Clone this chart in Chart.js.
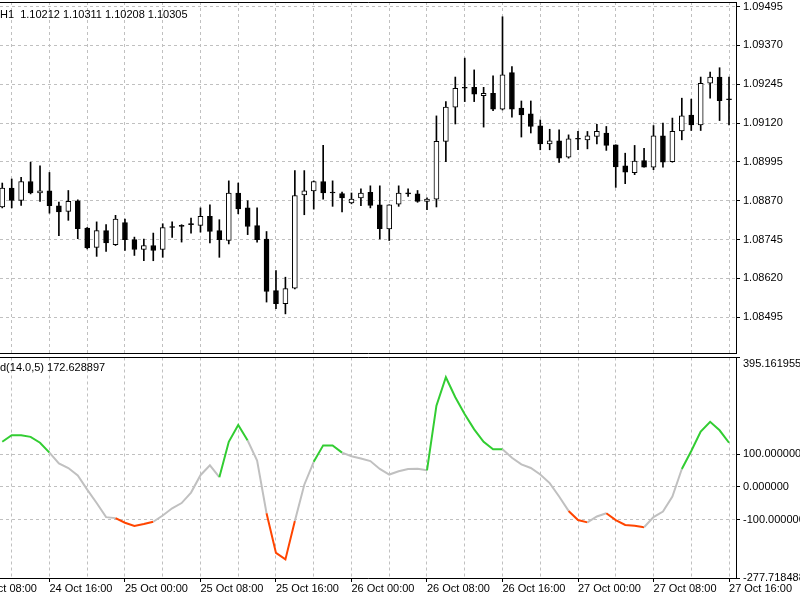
<!DOCTYPE html>
<html>
<head>
<meta charset="utf-8">
<script src="https://cdn.jsdelivr.net/npm/chart.js@4.4.1/dist/chart.umd.min.js"></script>
<style>
  html, body { margin: 0; padding: 0; background: #fff; }
  #wrap { position: relative; width: 800px; height: 600px; overflow: hidden; }
  canvas { position: absolute; left: 0; }
  #price { top: 0; }
  #cci { top: 355px; }
</style>
</head>
<body>
<div id="wrap">
  <canvas id="price" width="800" height="355"></canvas>
  <canvas id="cci" width="800" height="245"></canvas>
</div>
<script>
const header = 'H1  1.10212 1.10311 1.10208 1.10305';
const cciTitle = 'd(14.0,5) 172.628897';

// hourly bars, 24 Oct 11:00 .. 27 Oct 16:00
const open = [
  1.08850, 1.08911, 1.08871, 1.08932, 1.08895, 1.08902, 1.08854, 1.08836, 1.08870, 1.08782,
  1.08720, 1.08774, 1.08729, 1.08800, 1.08745, 1.08713, 1.08726, 1.08713, 1.08787, 1.08791,
  1.08793, 1.08791, 1.08820, 1.08774, 1.08742, 1.08895, 1.08847, 1.08790, 1.08747, 1.08581,
  1.08539, 1.08589, 1.08889, 1.08902, 1.08932, 1.08895, 1.08893, 1.08863, 1.08879, 1.08897,
  1.08857, 1.08779, 1.08859, 1.08895, 1.08892, 1.08868, 1.08875, 1.09061, 1.09171, 1.09232,
  1.09235, 1.09208, 1.09216, 1.09165, 1.09282, 1.09168, 1.09150, 1.09111, 1.09053, 1.09063,
  1.09010, 1.09068, 1.09066, 1.09077, 1.09088, 1.09050, 1.08982, 1.08960, 1.08999, 1.08978,
  1.09079, 1.08996, 1.09095, 1.09146, 1.09114, 1.09248, 1.09268, 1.09195
];
const high = [
  1.08927, 1.08940, 1.08945, 1.08994, 1.08982, 1.08961, 1.08866, 1.08903, 1.08873, 1.08784,
  1.08802, 1.08793, 1.08823, 1.08811, 1.08753, 1.08747, 1.08766, 1.08796, 1.08802, 1.08793,
  1.08814, 1.08847, 1.08857, 1.08809, 1.08934, 1.08927, 1.08870, 1.08847, 1.08771, 1.08645,
  1.08624, 1.08967, 1.08967, 1.08934, 1.09048, 1.08934, 1.08898, 1.08895, 1.08908, 1.08918,
  1.08918, 1.08857, 1.08918, 1.08908, 1.08903, 1.08879, 1.09143, 1.09189, 1.09268, 1.09329,
  1.09291, 1.09235, 1.09272, 1.09462, 1.09302, 1.09191, 1.09191, 1.09130, 1.09100, 1.09098,
  1.09082, 1.09093, 1.09093, 1.09116, 1.09109, 1.09050, 1.09023, 1.09048, 1.09039, 1.09112,
  1.09120, 1.09136, 1.09200, 1.09197, 1.09268, 1.09284, 1.09298, 1.09268
];
const low = [
  1.08847, 1.08847, 1.08855, 1.08892, 1.08868, 1.08830, 1.08758, 1.08807, 1.08748, 1.08715,
  1.08691, 1.08707, 1.08726, 1.08710, 1.08694, 1.08677, 1.08677, 1.08688, 1.08752, 1.08737,
  1.08766, 1.08769, 1.08734, 1.08688, 1.08731, 1.08828, 1.08761, 1.08737, 1.08544, 1.08523,
  1.08506, 1.08586, 1.08825, 1.08843, 1.08875, 1.08852, 1.08834, 1.08860, 1.08854, 1.08847,
  1.08747, 1.08742, 1.08852, 1.08884, 1.08865, 1.08841, 1.08850, 1.08996, 1.09117, 1.09189,
  1.09189, 1.09107, 1.09160, 1.09162, 1.09139, 1.09075, 1.09088, 1.09034, 1.09034, 1.08993,
  1.09007, 1.09034, 1.09037, 1.09053, 1.09032, 1.08913, 1.08925, 1.08954, 1.08978, 1.08970,
  1.08978, 1.08994, 1.09066, 1.09096, 1.09096, 1.09200, 1.09128, 1.09114
];
const close = [
  1.08911, 1.08871, 1.08932, 1.08895, 1.08902, 1.08854, 1.08834, 1.08868, 1.08780, 1.08718,
  1.08774, 1.08734, 1.08811, 1.08745, 1.08713, 1.08726, 1.08710, 1.08784, 1.08784, 1.08787,
  1.08793, 1.08820, 1.08771, 1.08745, 1.08895, 1.08844, 1.08787, 1.08745, 1.08578, 1.08539,
  1.08587, 1.08887, 1.08902, 1.08932, 1.08895, 1.08895, 1.08879, 1.08875, 1.08895, 1.08855,
  1.08780, 1.08857, 1.08895, 1.08892, 1.08868, 1.08875, 1.09061, 1.09171, 1.09232, 1.09232,
  1.09213, 1.09216, 1.09165, 1.09275, 1.09165, 1.09146, 1.09109, 1.09053, 1.09063, 1.09007,
  1.09069, 1.09068, 1.09079, 1.09093, 1.09048, 1.08979, 1.08962, 1.08998, 1.08978, 1.09079,
  1.08994, 1.09093, 1.09143, 1.09114, 1.09248, 1.09268, 1.09192, 1.09195
];
const cci = [
  138, 158, 158, 153, 135, 105, 72, 58, 35, -8,
  -49, -92, -95, -109, -119, -113, -106, -87, -65, -49,
  -17, 36, 66, 30, 138, 189, 142, 81, -80, -201,
  -221, -104, 7, 77, 127, 127, 105, 94, 87, 79,
  55, 38, 48, 55, 56, 51, 248, 335, 274, 222,
  176, 138, 115, 115, 89, 69, 58, 38, 12, -29,
  -73, -101, -108, -90, -80, -101, -116, -118, -123, -92,
  -75, -29, 55, 110, 169, 199, 173, 135
];

const priceTicks = [1.08495, 1.08620, 1.08745, 1.08870, 1.08995, 1.09120, 1.09245, 1.09370, 1.09495];
const cciTicks = [-277.718488, -100, 0, 100, 395.161955];
const timeLabels = [
  '24 Oct 08:00', '24 Oct 16:00', '25 Oct 00:00', '25 Oct 08:00', '25 Oct 16:00', '26 Oct 00:00',
  '26 Oct 08:00', '26 Oct 16:00', '27 Oct 00:00', '27 Oct 08:00', '27 Oct 16:00'
];

const FONT = '"Liberation Sans", Arial, sans-serif';
const gridColor = '#c0c0c0';
const dash = [3, 3];
const xMin = -0.24, xMax = 77.74;

// first label sits 3 bars before the first bar, grid every 4 bars, label every 8
const firstLabelIdx = -3;
const gridIdx = [];
for (let v = firstLabelIdx; v <= firstLabelIdx + 8 * (timeLabels.length - 1); v += 4) gridIdx.push(v);
const isLabelTick = v => (v - firstLabelIdx) % 8 === 0;

Chart.defaults.font.family = FONT;
Chart.defaults.font.size = 11;
Chart.defaults.color = '#000';

const fixSize = (w, h) => s => {
  if (w != null) s.width = w;
  if (h != null) s.height = h;
  s.paddingLeft = s.paddingRight = s.paddingTop = s.paddingBottom = 0;
};

const topLine = {
  id: 'topLine',
  afterDraw(chart) {
    const { ctx, chartArea } = chart;
    const y = Math.floor(chartArea.top) + 0.5;
    ctx.save();
    ctx.strokeStyle = '#000';
    ctx.lineWidth = 1;
    ctx.beginPath();
    ctx.moveTo(0, y);
    ctx.lineTo(chartArea.right + 1, y);
    ctx.stroke();
    ctx.restore();
  }
};

const common = {
  responsive: false,
  animation: false,
  events: [],
  layout: { padding: 0, autoPadding: false }
};

// price pane
new Chart(document.getElementById('price'), {
  type: 'bar',
  data: {
    datasets: [{
      label: 'body',
      data: open.map((o, i) => ({ x: i, y: [o, close[i]] })),
      backgroundColor: open.map((o, i) => close[i] > o ? '#ffffff' : '#000000'),
      borderColor: '#000',
      borderWidth: 1,
      borderSkipped: false,
      barThickness: 5,
      minBarLength: 1,
      grouped: false,
      order: 0
    }, {
      label: 'wick',
      data: high.map((h, i) => ({ x: i, y: [low[i], h] })),
      backgroundColor: '#000',
      borderWidth: 0,
      barThickness: 1,
      grouped: false,
      order: 1
    }]
  },
  options: {
    ...common,
    plugins: {
      legend: { display: false },
      tooltip: { enabled: false },
      title: {
        display: true, text: header, align: 'start', color: '#000',
        font: { size: 11, weight: 'normal', lineHeight: 1.2 },
        padding: { top: 8, bottom: -19.2 }
      }
    },
    scales: {
      x: {
        type: 'linear', min: xMin, max: xMax, offset: false,
        afterBuildTicks: s => { s.ticks = gridIdx.map(v => ({ value: v })); },
        afterFit: fixSize(null, 2),
        ticks: { display: false },
        grid: { color: gridColor, drawTicks: false, offset: false },
        border: { color: '#000', dash: dash }
      },
      y: {
        position: 'right', min: 1.083801, max: 1.095095,
        afterBuildTicks: s => { s.ticks = priceTicks.map(v => ({ value: v })); },
        afterFit: fixSize(64, null),
        ticks: { callback: v => v.toFixed(5), color: '#000', padding: 3, autoSkip: false },
        grid: { color: gridColor, tickColor: '#000', tickLength: 4 },
        border: { color: '#000', dash: dash }
      }
    }
  },
  plugins: [topLine]
});

// indicator pane
const segColor = v => v > 100 ? '#32cd32' : (v < -100 ? '#ff4500' : '#c0c0c0');

new Chart(document.getElementById('cci'), {
  type: 'line',
  data: {
    datasets: [{
      data: cci.map((v, i) => ({ x: i, y: v })),
      borderColor: '#c0c0c0',
      borderWidth: 2,
      pointRadius: 0,
      tension: 0,
      segment: { borderColor: c => segColor(c.p1.parsed.y) }
    }]
  },
  options: {
    ...common,
    plugins: {
      legend: { display: false },
      tooltip: { enabled: false },
      title: {
        display: true, text: cciTitle, align: 'start', color: '#000',
        font: { size: 11, weight: 'normal', lineHeight: 1.2 },
        padding: { top: 6.7, bottom: -17.4 }
      }
    },
    scales: {
      x: {
        type: 'linear', min: xMin, max: xMax, offset: false,
        afterBuildTicks: s => { s.ticks = gridIdx.map(v => ({ value: v })); },
        afterFit: fixSize(null, 22),
        ticks: {
          autoSkip: false, maxRotation: 0, minRotation: 0, align: 'start', padding: 0, color: '#000',
          callback: v => isLabelTick(v) ? timeLabels[(v - firstLabelIdx) / 8] : ''
        },
        grid: {
          color: gridColor, tickLength: 4, offset: false,
          tickColor: c => (c.tick && isLabelTick(c.tick.value)) ? '#000' : 'rgba(0,0,0,0)'
        },
        border: { color: '#000', dash: dash }
      },
      y: {
        position: 'right', min: cciTicks[0], max: cciTicks[cciTicks.length - 1],
        afterBuildTicks: s => { s.ticks = cciTicks.map(v => ({ value: v })); },
        afterFit: fixSize(64, null),
        ticks: {
          color: '#000', padding: 3, autoSkip: false,
          callback: v => v === cciTicks[cciTicks.length - 1] ? ['', v.toFixed(6)] : v.toFixed(6)
        },
        grid: { color: gridColor, tickColor: '#000', tickLength: 4 },
        border: { color: '#000', dash: dash }
      }
    }
  },
  plugins: [topLine]
});
</script>
</body>
</html>
